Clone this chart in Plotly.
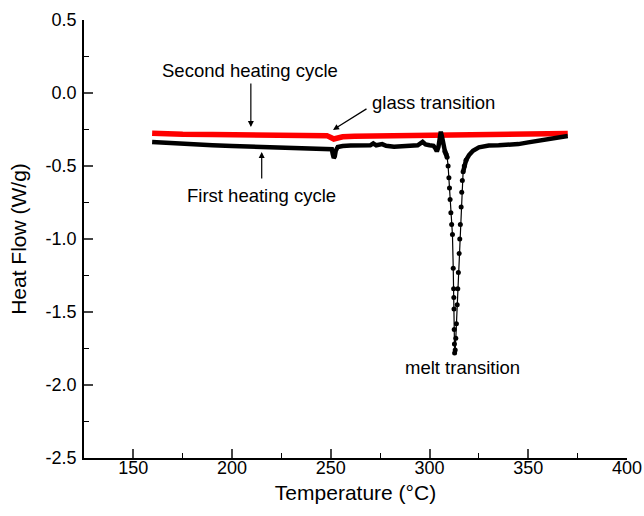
import numpy as np
import plotly.graph_objects as go

# Second heating cycle (red)
second_T = [159.5, 165, 175, 190, 205, 220, 235, 245, 248, 250, 251.5, 253, 256, 262, 275, 290, 300, 315, 330, 345, 360, 370]
second_HF = [-0.275, -0.279, -0.283, -0.285, -0.285, -0.285, -0.285, -0.286, -0.292, -0.305, -0.315, -0.310, -0.300, -0.297, -0.295, -0.292, -0.290, -0.288, -0.285, -0.282, -0.279, -0.277]

# First heating cycle (black)
first_T = [159.5, 170, 180, 190, 200, 210, 220, 230, 240, 248, 250.5, 251.0, 251.5, 252.0, 252.5, 253.5, 256, 260, 265, 270, 271.5, 273, 276, 278, 282, 286, 290, 294, 296.5, 298, 300, 302, 303, 303.7, 304.5, 305.2, 305.7, 306.3, 307.0, 307.8, 308.4,
           308.9, 309.4, 309.8, 310.1, 310.4, 310.8, 311.2, 311.6, 312.0, 312.2, 312.3, 312.4, 312.5, 312.6, 312.7,
           313.0, 313.3, 313.6, 314.0, 314.3, 314.6, 315.0, 315.3, 315.6, 316.0, 316.3, 316.6, 317.0, 317.6, 318.5, 320, 322, 325,
           330, 335, 340, 345, 350, 355, 360, 365, 370]
first_HF = [-0.335, -0.345, -0.352, -0.358, -0.363, -0.368, -0.370, -0.374, -0.377, -0.380, -0.385, -0.420, -0.445, -0.435, -0.395, -0.370, -0.363, -0.360, -0.360, -0.358, -0.345, -0.358, -0.350, -0.362, -0.368, -0.365, -0.360, -0.358, -0.335, -0.352, -0.358, -0.362, -0.380, -0.400, -0.370, -0.310, -0.265, -0.300, -0.360, -0.400, -0.420,
            -0.440, -0.500, -0.580, -0.650, -0.730, -0.820, -0.900, -0.970, -1.200, -1.340, -1.400, -1.480, -1.620, -1.720, -1.780,
            -1.760, -1.680, -1.580, -1.450, -1.340, -1.230, -1.100, -1.000, -0.900, -0.780, -0.680, -0.600, -0.540, -0.500, -0.460, -0.425, -0.395, -0.372,
            -0.360, -0.358, -0.357, -0.350, -0.338, -0.326, -0.316, -0.306, -0.295]

x_ticks = [150, 200, 250, 300, 350, 400]
y_ticks = [-2.5, -2.0, -1.5, -1.0, -0.5, 0.0, 0.5]
y_tick_text = ["-2.5", "-2.0", "-1.5", "-1.0", "-0.5", "0.0", "0.5"]

ft = np.array(first_T)
fh = np.array(first_HF)
m_before = ft <= 308.9
m_melt = (ft >= 307.8) & (ft <= 318.5)
m_after = ft >= 317.0

fig = go.Figure()
fig.add_trace(go.Scatter(x=second_T, y=second_HF, mode="lines",
                         line=dict(color="#ff0000", width=5.5), showlegend=False))
fig.add_trace(go.Scatter(x=ft[m_before], y=fh[m_before], mode="lines",
                         line=dict(color="black", width=4.5), showlegend=False))
fig.add_trace(go.Scatter(x=ft[m_melt], y=fh[m_melt], mode="lines+markers",
                         line=dict(color="black", width=1.2),
                         marker=dict(color="black", size=5), showlegend=False))
fig.add_trace(go.Scatter(x=ft[m_after], y=fh[m_after], mode="lines",
                         line=dict(color="black", width=4.5), showlegend=False))

font_fam = "Liberation Sans, Arial, sans-serif"
ann_font = dict(family=font_fam, size=18.5, color="black")

anns = [
    dict(x=209, y=0.151, text="Second heating cycle", showarrow=False, font=ann_font),
    dict(x=301.8, y=-0.062, text="glass transition", showarrow=False, font=ann_font),
    dict(x=214.7, y=-0.699, text="First heating cycle", showarrow=False, font=ann_font),
    dict(x=316.7, y=-1.877, text="melt transition", showarrow=False, font=ann_font),
    dict(x=209.5, y=-0.233, text="", showarrow=True, ax=0, ay=-45, arrowhead=2, arrowsize=1, arrowwidth=1.2, arrowcolor="black"),
    dict(x=251.1, y=-0.253, text="", showarrow=True, ax=35, ay=-22, arrowhead=2, arrowsize=1, arrowwidth=1.2, arrowcolor="black"),
    dict(x=215.0, y=-0.404, text="", showarrow=True, ax=0, ay=28, arrowhead=2, arrowsize=1, arrowwidth=1.2, arrowcolor="black"),
]
for a in anns:
    a.setdefault("xref", "x")
    a.setdefault("yref", "y")
fig.update_layout(annotations=anns)

fig.update_layout(
    width=644, height=516,
    margin=dict(l=84, r=17, t=20, b=58),
    paper_bgcolor="white", plot_bgcolor="white",
    font=dict(family=font_fam, color="black"),
    xaxis=dict(range=[125, 400], tickvals=x_ticks, ticks="inside", ticklen=9, tickwidth=1.5,
               showline=True, linecolor="black", linewidth=1.5, showgrid=False, zeroline=False,
               automargin=False, ticklabelstandoff=-7,
               tickfont=dict(size=18), title=dict(text="Temperature (°C)", font=dict(size=21), standoff=8),
               minor=dict(dtick=25, tick0=125, ticks="inside", ticklen=5, tickwidth=1.2, tickcolor="black", showgrid=False)),
    yaxis=dict(range=[-2.5, 0.5], tickvals=y_ticks, ticktext=y_tick_text, ticks="inside", ticklen=9, tickwidth=1.5,
               showline=True, linecolor="black", linewidth=1.5, showgrid=False, zeroline=False,
               automargin=False, ticklabelstandoff=2,
               tickfont=dict(size=18), title=dict(text="Heat Flow (W/g)", font=dict(size=21), standoff=13),
               minor=dict(dtick=0.25, tick0=0, ticks="inside", ticklen=5, tickwidth=1.2, tickcolor="black", showgrid=False)),
)

fig.write_html("out.html", config={"displayModeBar": False},
               post_script="document.body.style.margin='0';document.body.style.overflow='hidden';")
